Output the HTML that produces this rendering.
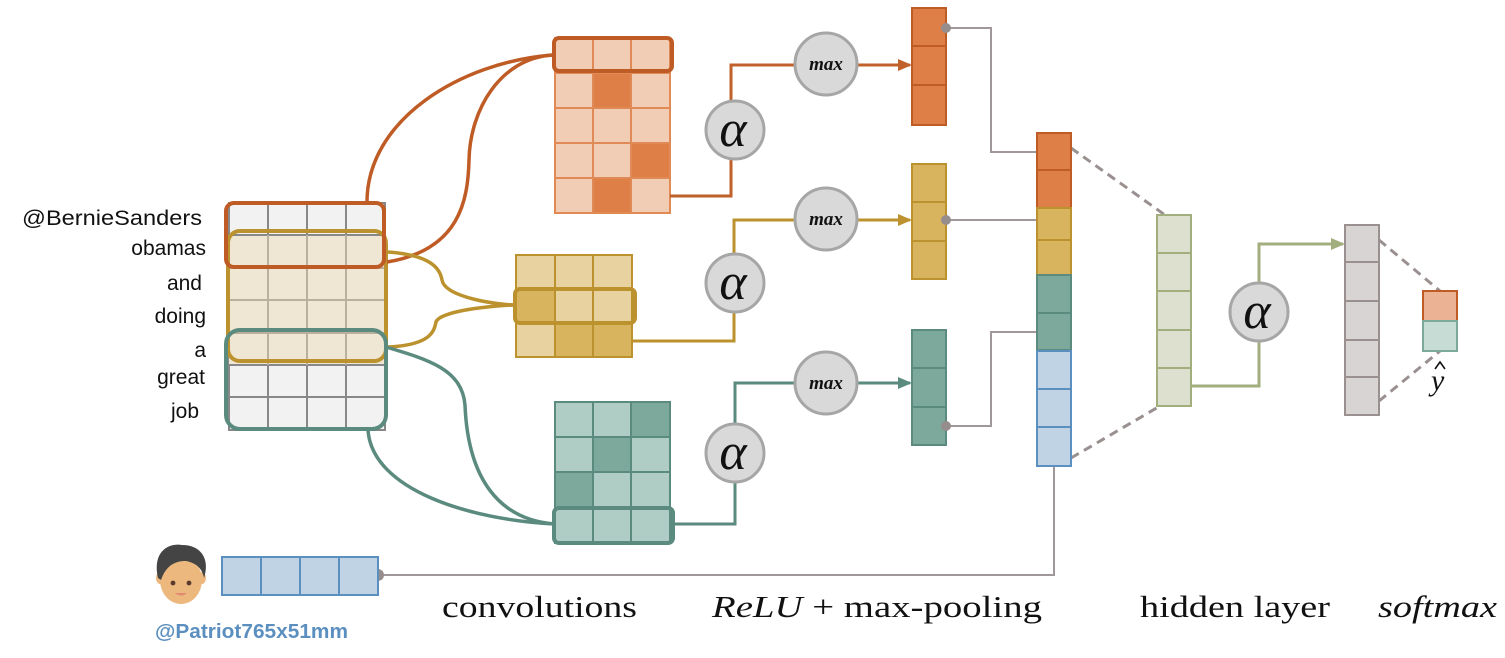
<!DOCTYPE html>
<html><head><meta charset="utf-8"><style>
html,body{margin:0;padding:0;background:#fff;}
svg{display:block}
.lab{font-family:"Liberation Sans",sans-serif;font-size:21px;fill:#111;text-anchor:end}
.serif{font-family:"Liberation Serif",serif;font-size:31px;fill:#111}
.alpha{font-family:"Liberation Serif",serif;font-style:italic;font-size:52px;fill:#111;text-anchor:middle}
.max{font-family:"Liberation Serif",serif;font-style:italic;font-weight:bold;font-size:19px;fill:#111;text-anchor:middle}
</style></head><body>
<svg width="1505" height="658" viewBox="0 0 1505 658" xmlns="http://www.w3.org/2000/svg">
<defs>
<marker id="ao" markerWidth="14" markerHeight="12" refX="12" refY="6" orient="auto" markerUnits="userSpaceOnUse"><path d="M0,0 L14,6 L0,12 z" fill="#c0602a"/></marker>
<marker id="ay" markerWidth="14" markerHeight="12" refX="12" refY="6" orient="auto" markerUnits="userSpaceOnUse"><path d="M0,0 L14,6 L0,12 z" fill="#bb922e"/></marker>
<marker id="at" markerWidth="14" markerHeight="12" refX="12" refY="6" orient="auto" markerUnits="userSpaceOnUse"><path d="M0,0 L14,6 L0,12 z" fill="#5b8a7e"/></marker>
<marker id="ag" markerWidth="14" markerHeight="12" refX="12" refY="6" orient="auto" markerUnits="userSpaceOnUse"><path d="M0,0 L14,6 L0,12 z" fill="#a3ae7e"/></marker>
</defs>

<!-- input matrix -->
<g stroke="#888" stroke-width="2">
<rect x="229" y="203" width="156" height="227" fill="#f2f2f2"/>
<rect x="229" y="235" width="156" height="130" fill="#f0e6d4" stroke="none"/>
<line x1="268" y1="203" x2="268" y2="430"/><line x1="307" y1="203" x2="307" y2="430"/><line x1="346" y1="203" x2="346" y2="430"/>
<line x1="229" y1="235" x2="385" y2="235"/><line x1="229" y1="268" x2="385" y2="268"/><line x1="229" y1="300" x2="385" y2="300"/><line x1="229" y1="333" x2="385" y2="333"/><line x1="229" y1="365" x2="385" y2="365"/><line x1="229" y1="397" x2="385" y2="397"/>
</g>
<g stroke="#bbb09e" stroke-width="2">
<line x1="268" y1="235" x2="268" y2="365"/><line x1="307" y1="235" x2="307" y2="365"/><line x1="346" y1="235" x2="346" y2="365"/>
<line x1="229" y1="268" x2="385" y2="268"/><line x1="229" y1="300" x2="385" y2="300"/><line x1="229" y1="333" x2="385" y2="333"/>
</g>
<rect x="228" y="231" width="158" height="130" rx="12" fill="none" stroke="#bb922e" stroke-width="4"/>
<rect x="226" y="203" width="158" height="64" rx="8" fill="none" stroke="#bf5c25" stroke-width="4"/>
<rect x="226" y="330" width="160" height="99" rx="14" fill="none" stroke="#5b8a7e" stroke-width="4"/>

<text class="lab" x="202" y="225" textLength="180" lengthAdjust="spacingAndGlyphs">@BernieSanders</text>
<text class="lab" x="206" y="255">obamas</text>
<text class="lab" x="202" y="290">and</text>
<text class="lab" x="206" y="323">doing</text>
<text class="lab" x="206" y="357">a</text>
<text class="lab" x="205" y="384">great</text>
<text class="lab" x="199" y="418">job</text>

<!-- curves -->
<g fill="none" stroke-width="3.5">
<path d="M367,202 C367,120 460,62 553,55" stroke="#bf5c25"/>
<path d="M387,262 C460,250 468,200 469,160 C470,110 500,58 553,55" stroke="#bf5c25"/>
<path d="M388,252 C430,255 440,268 442,280 C445,298 500,305 516,305" stroke="#bb922e"/>
<path d="M388,347 C430,345 434,332 436,322 C440,310 500,305 516,305" stroke="#bb922e"/>
<path d="M386,347 C430,360 462,370 465,405 C468,480 500,520 555,524" stroke="#5b8a7e"/>
<path d="M368,430 C372,490 470,520 555,524" stroke="#5b8a7e"/>
</g>

<!-- orange conv -->
<g stroke="#e08a55" stroke-width="2">
<rect x="555" y="38" width="115" height="175" fill="#f0cdb4"/>
<rect x="593" y="73" width="38" height="35" fill="#dd7f47"/>
<rect x="631" y="143" width="39" height="35" fill="#dd7f47"/>
<rect x="593" y="178" width="38" height="35" fill="#dd7f47"/>
<line x1="593" y1="38" x2="593" y2="213"/><line x1="631" y1="38" x2="631" y2="213"/>
<line x1="555" y1="73" x2="670" y2="73"/><line x1="555" y1="108" x2="670" y2="108"/><line x1="555" y1="143" x2="670" y2="143"/><line x1="555" y1="178" x2="670" y2="178"/>
</g>
<rect x="554" y="38" width="118" height="33" rx="5" fill="none" stroke="#bf5c25" stroke-width="4"/>

<!-- yellow conv -->
<g stroke="#bb922e" stroke-width="2">
<rect x="516" y="255" width="116" height="102" fill="#e8d3a0"/>
<rect x="516" y="289" width="39" height="34" fill="#d9b45e"/>
<rect x="555" y="323" width="77" height="34" fill="#d9b45e"/>
<line x1="555" y1="255" x2="555" y2="357"/><line x1="593" y1="255" x2="593" y2="357"/>
<line x1="516" y1="289" x2="632" y2="289"/><line x1="516" y1="323" x2="632" y2="323"/>
</g>
<rect x="515" y="289" width="120" height="34" rx="5" fill="none" stroke="#bb922e" stroke-width="4"/>

<!-- teal conv -->
<g stroke="#5b8a7e" stroke-width="2">
<rect x="555" y="402" width="115" height="141" fill="#b0cdc5"/>
<rect x="631" y="402" width="39" height="35" fill="#7da89c"/>
<rect x="593" y="437" width="38" height="35" fill="#7da89c"/>
<rect x="555" y="472" width="38" height="36" fill="#7da89c"/>
<line x1="593" y1="402" x2="593" y2="543"/><line x1="631" y1="402" x2="631" y2="543"/>
<line x1="555" y1="437" x2="670" y2="437"/><line x1="555" y1="472" x2="670" y2="472"/><line x1="555" y1="508" x2="670" y2="508"/>
</g>
<rect x="554" y="508" width="119" height="35" rx="5" fill="none" stroke="#5b8a7e" stroke-width="4"/>

<!-- connectors -->
<g fill="none" stroke-width="3">
<path d="M670,196 H731 V65 H910" stroke="#c0602a" marker-end="url(#ao)"/>
<path d="M632,341 H734 V220 H910" stroke="#bb922e" marker-end="url(#ay)"/>
<path d="M673,524 H735 V383 H910" stroke="#5b8a7e" marker-end="url(#at)"/>
<path d="M1191,386 H1259 V244 H1343" stroke="#a3ae7e" marker-end="url(#ag)"/>
</g>
<g fill="#d9d9d9" stroke="#a6a6a6" stroke-width="3">
<circle cx="735" cy="130" r="29"/><circle cx="826" cy="64" r="31"/>
<circle cx="735" cy="283" r="29"/><circle cx="826" cy="219" r="31"/>
<circle cx="735" cy="453" r="29"/><circle cx="826" cy="383" r="31"/>
<circle cx="1259" cy="312" r="29"/>
</g>
<text class="alpha" x="733" y="146">α</text>
<text class="alpha" x="733" y="299">α</text>
<text class="alpha" x="733" y="469">α</text>
<text class="alpha" x="1257" y="328">α</text>
<text class="max" x="826" y="70">max</text>
<text class="max" x="826" y="225">max</text>
<text class="max" x="826" y="389">max</text>

<!-- gray lines -->
<g fill="none" stroke="#a09898" stroke-width="2">
<path d="M946,28 H991 V152 H1037"/>
<path d="M946,220 H1037"/>
<path d="M946,426 H991 V332 H1037"/>
<path d="M1054,466 V575 H378"/>
</g>
<g fill="none" stroke="#9a9090" stroke-width="3" stroke-dasharray="9,6">
<path d="M1071,148 L1165,215"/><path d="M1071,458 L1160,406"/>
<path d="M1379,240 L1440,291"/><path d="M1379,401 L1440,351"/>
</g>

<!-- pooled -->
<g stroke="#bf5c25" stroke-width="2" fill="#dd7f47">
<rect x="912" y="8" width="34" height="38"/><rect x="912" y="46" width="34" height="39"/><rect x="912" y="85" width="34" height="40"/>
</g>
<g stroke="#bb922e" stroke-width="2" fill="#d9b45e">
<rect x="912" y="164" width="34" height="38"/><rect x="912" y="202" width="34" height="39"/><rect x="912" y="241" width="34" height="38"/>
</g>
<g stroke="#5b8a7e" stroke-width="2" fill="#7da89c">
<rect x="912" y="330" width="34" height="38"/><rect x="912" y="368" width="34" height="39"/><rect x="912" y="407" width="34" height="38"/>
</g>
<g fill="#968d8d"><circle cx="946" cy="28" r="5"/><circle cx="946" cy="220" r="5"/><circle cx="946" cy="426" r="5"/><circle cx="378" cy="575" r="6"/></g>

<!-- concat -->
<g stroke-width="2">
<rect x="1037" y="133" width="34" height="37" fill="#dd7f47" stroke="#bf5c25"/>
<rect x="1037" y="170" width="34" height="38" fill="#dd7f47" stroke="#bf5c25"/>
<rect x="1037" y="208" width="34" height="32" fill="#d9b45e" stroke="#bb922e"/>
<rect x="1037" y="240" width="34" height="35" fill="#d9b45e" stroke="#bb922e"/>
<rect x="1037" y="275" width="34" height="38" fill="#7da89c" stroke="#5b8a7e"/>
<rect x="1037" y="313" width="34" height="37" fill="#7da89c" stroke="#5b8a7e"/>
<rect x="1037" y="351" width="34" height="38" fill="#bfd3e5" stroke="#5b8fbf"/>
<rect x="1037" y="389" width="34" height="38" fill="#bfd3e5" stroke="#5b8fbf"/>
<rect x="1037" y="427" width="34" height="39" fill="#bfd3e5" stroke="#5b8fbf"/>
</g>

<!-- hidden -->
<g stroke="#a3ae7e" stroke-width="2" fill="#dde0cf">
<rect x="1157" y="215" width="34" height="38"/><rect x="1157" y="253" width="34" height="38"/><rect x="1157" y="291" width="34" height="39"/><rect x="1157" y="330" width="34" height="38"/><rect x="1157" y="368" width="34" height="38"/>
</g>
<!-- output -->
<g stroke="#9a9090" stroke-width="2" fill="#d8d4d4">
<rect x="1345" y="225" width="34" height="37"/><rect x="1345" y="262" width="34" height="39"/><rect x="1345" y="301" width="34" height="39"/><rect x="1345" y="340" width="34" height="37"/><rect x="1345" y="377" width="34" height="38"/>
</g>
<rect x="1423" y="291" width="34" height="30" fill="#ebb394" stroke="#bf5c25" stroke-width="2"/>
<rect x="1423" y="321" width="34" height="30" fill="#c8dcd6" stroke="#7da89c" stroke-width="2"/>
<text x="1431" y="390" style="font-family:'Liberation Serif',serif;font-style:italic;font-size:30px;fill:#111">y</text>
<path d="M1435,369 L1440,362 L1445,369" fill="none" stroke="#111" stroke-width="1.6"/>

<!-- user -->
<ellipse cx="181" cy="580" rx="21" ry="24" fill="#ecb87e"/>
<ellipse cx="160" cy="578" rx="4" ry="6" fill="#ecb87e"/><ellipse cx="202" cy="578" rx="4" ry="6" fill="#ecb87e"/>
<path d="M158,578 C152,550 170,543 182,545 C202,545 210,560 204,578 C202,568 196,563 186,561 C174,561 166,566 161,580 Z" fill="#444"/>
<circle cx="173" cy="583" r="2.4" fill="#5a3a2a"/><circle cx="189" cy="583" r="2.4" fill="#5a3a2a"/>
<path d="M175,593 Q181,598 187,593" fill="#e08a70" stroke="none"/>
<g stroke="#5b8fbf" stroke-width="2" fill="#bfd3e5">
<rect x="222" y="557" width="39" height="38"/><rect x="261" y="557" width="39" height="38"/><rect x="300" y="557" width="39" height="38"/><rect x="339" y="557" width="39" height="38"/>
</g>
<text x="155" y="638" textLength="193" lengthAdjust="spacingAndGlyphs" style="font-family:'Liberation Sans',sans-serif;font-weight:bold;font-size:20px;fill:#5b8fbf">@Patriot765x51mm</text>

<text class="serif" x="442" y="617" textLength="195" lengthAdjust="spacingAndGlyphs">convolutions</text>
<text class="serif" x="712" y="617" textLength="330" lengthAdjust="spacingAndGlyphs"><tspan font-style="italic">ReLU</tspan> + max-pooling</text>
<text class="serif" x="1140" y="617" textLength="190" lengthAdjust="spacingAndGlyphs">hidden layer</text>
<text class="serif" x="1378" y="617" font-style="italic" textLength="119" lengthAdjust="spacingAndGlyphs">softmax</text>
</svg>
</body></html>
